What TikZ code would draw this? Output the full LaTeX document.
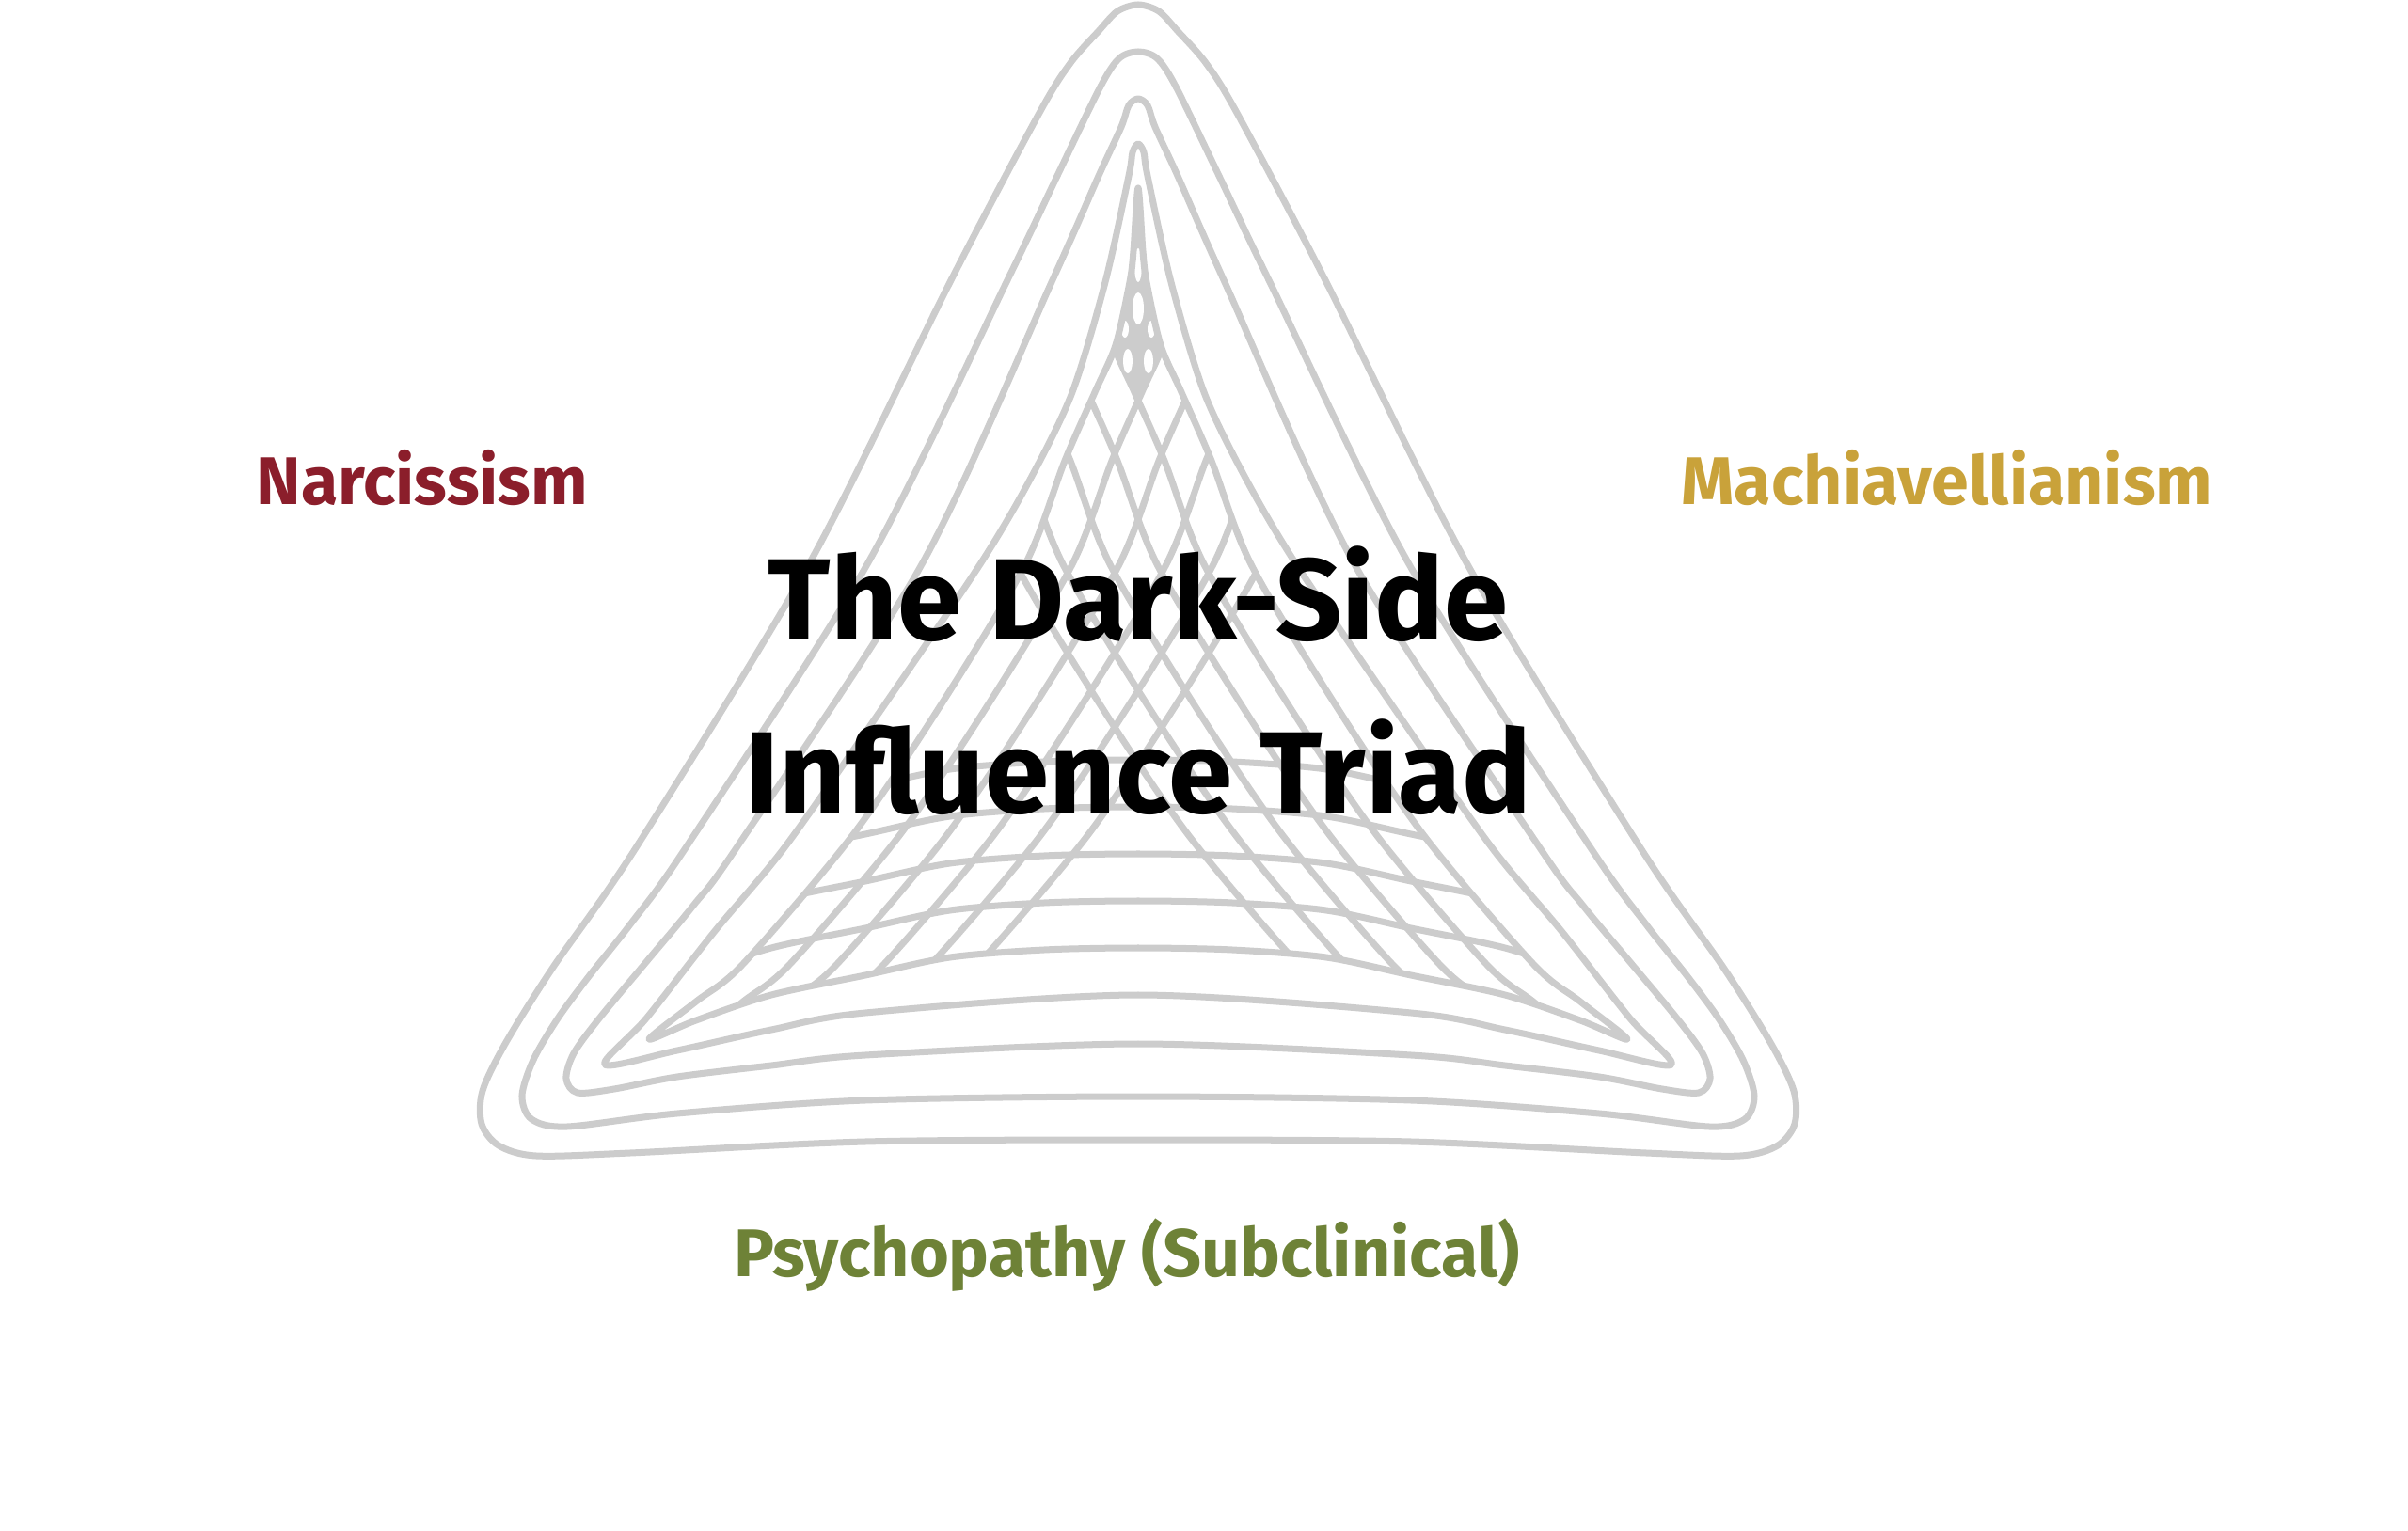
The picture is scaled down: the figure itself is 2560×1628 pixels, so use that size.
\documentclass[tikz,border=0pt]{standalone}
\usepackage{fontspec}
\setmainfont{Fira Sans}
\usepackage{tikz}
\definecolor{ringgray}{HTML}{CCCCCC}
\definecolor{narcred}{HTML}{8B1E2B}
\definecolor{machgold}{HTML}{C9A23A}
\definecolor{psycholive}{HTML}{6E8237}

\begin{document}
\begin{tikzpicture}[x=0.01cm, y=-0.01cm,
    ring/.style={draw=ringgray, line width=0.07cm, line join=round},
    trait/.style={font=\fontsize{20.4}{24}\selectfont\bfseries, anchor=base},
    headline/.style={font=\fontsize{35}{40}\selectfont\bfseries, anchor=base}]
    \useasboundingbox (-1210,0) rectangle (1350,1628);

    \draw[ring] plot[smooth cycle] coordinates {(0,5) (22,12) (42,33) (72,67) (105,120) (200,300) (350,600) (533,900) (623,1030) (673,1110) (697,1160) (698,1195) (680,1218) (640,1229) (540,1226) (290,1214) (0,1212) (-290,1214) (-540,1226) (-640,1229) (-680,1218) (-698,1195) (-697,1160) (-673,1110) (-623,1030) (-533,900) (-350,600) (-200,300) (-105,120) (-72,67) (-42,33) (-22,12)};

    \draw[ring] plot[smooth cycle] coordinates {(0,55) (20,62) (40,92) (86,187) (140,300) (288,600) (480,900) (540,983) (583,1037) (617,1083) (643,1127) (655,1165) (645,1190) (607,1198) (490,1184) (290,1170) (0,1166) (-290,1170) (-490,1184) (-607,1198) (-645,1190) (-655,1165) (-643,1127) (-617,1083) (-583,1037) (-540,983) (-480,900) (-288,600) (-140,300) (-86,187) (-40,92) (-20,62)};

    \draw[ring] plot[smooth cycle] coordinates {(0,105) (10,112) (18,135) (42,187) (92,300) (230,600) (426,900) (473,963) (523,1023) (573,1083) (600,1120) (608,1147) (596,1162) (557,1158) (490,1145) (390,1133) (290,1122) (0,1110) (-290,1122) (-390,1133) (-490,1145) (-557,1158) (-596,1162) (-608,1147) (-600,1120) (-573,1083) (-523,1023) (-473,963) (-426,900) (-230,600) (-92,300) (-42,187) (-18,135) (-10,112)};

    \draw[ring] plot[smooth cycle] coordinates {(0,153) (6,162) (10,187) (35,300) (70,417) (115,510) (168,600) (270,750) (375,900) (450,990) (523,1083) (567,1132) (490,1117) (390,1095) (290,1077) (0,1058) (-290,1077) (-390,1095) (-490,1117) (-567,1132) (-523,1083) (-450,990) (-375,900) (-270,750) (-168,600) (-115,510) (-70,417) (-35,300) (-10,187) (-6,162)};

    \begin{scope}
        \clip plot[smooth cycle] coordinates {(0,200) (5,267) (9,300) (24,367) (46,417) (78,490) (120,600) (210,750) (305,890) (420,1025) (470,1065) (520,1105) (470,1085) (390,1058) (290,1037) (200,1018) (100,1010) (0,1008) (-100,1010) (-200,1018) (-290,1037) (-390,1058) (-470,1085) (-520,1105) (-470,1065) (-420,1025) (-305,890) (-210,750) (-120,600) (-78,490) (-46,417) (-24,367) (-9,300) (-5,267)};
        \foreach \side in {1,-1}
            \foreach \k in {1,...,5}
                \draw[ring, xscale=\side, shift={(-50*\k,0)}] plot[smooth] coordinates {(-5,150) (0,200) (5,267) (9,300) (24,367) (46,417) (78,490) (120,600) (210,750) (305,890) (420,1025) (470,1065) (520,1105) (600,1170)};
        \foreach \j in {1,...,4}
            \draw[ring, shift={(0,-50*\j)}] plot[smooth] coordinates {(-600,1165) (-520,1105) (-470,1085) (-390,1058) (-290,1037) (-200,1018) (-100,1010) (0,1008) (100,1010) (200,1018) (290,1037) (390,1058) (470,1085) (520,1105) (600,1165)};
        \fill[ringgray] (-90,190) -- (90,190) -- (90,255) -- (0,425) -- (-90,255) -- cycle;
        \fill[white] (0,282) ellipse (4 and 18) (0,328) ellipse (6 and 17) (-14,350) ellipse (4 and 9) (14,350) ellipse (4 and 9) (-11,384) ellipse (5 and 13) (11,384) ellipse (5 and 13);
    \end{scope}
    \draw[ring] plot[smooth cycle] coordinates {(0,200) (5,267) (9,300) (24,367) (46,417) (78,490) (120,600) (210,750) (305,890) (420,1025) (470,1065) (520,1105) (470,1085) (390,1058) (290,1037) (200,1018) (100,1010) (0,1008) (-100,1010) (-200,1018) (-290,1037) (-390,1058) (-470,1085) (-520,1105) (-470,1065) (-420,1025) (-305,890) (-210,750) (-120,600) (-78,490) (-46,417) (-24,367) (-9,300) (-5,267)};

    \node[trait, text=narcred] (narc) at (-761,537) {Narcissism};
    \node[trait, text=machgold] (mach) at (860,537) {Machiavellianism};
    \node[trait, text=psycholive] (psych) at (-12,1357) {Psychopathy (Subclinical)};

    \node[headline] (titletop) at (0,681) {The Dark-Side};
    \node[headline] (titlebottom) at (0,865) {Influence Triad};
\end{tikzpicture}
\end{document}
